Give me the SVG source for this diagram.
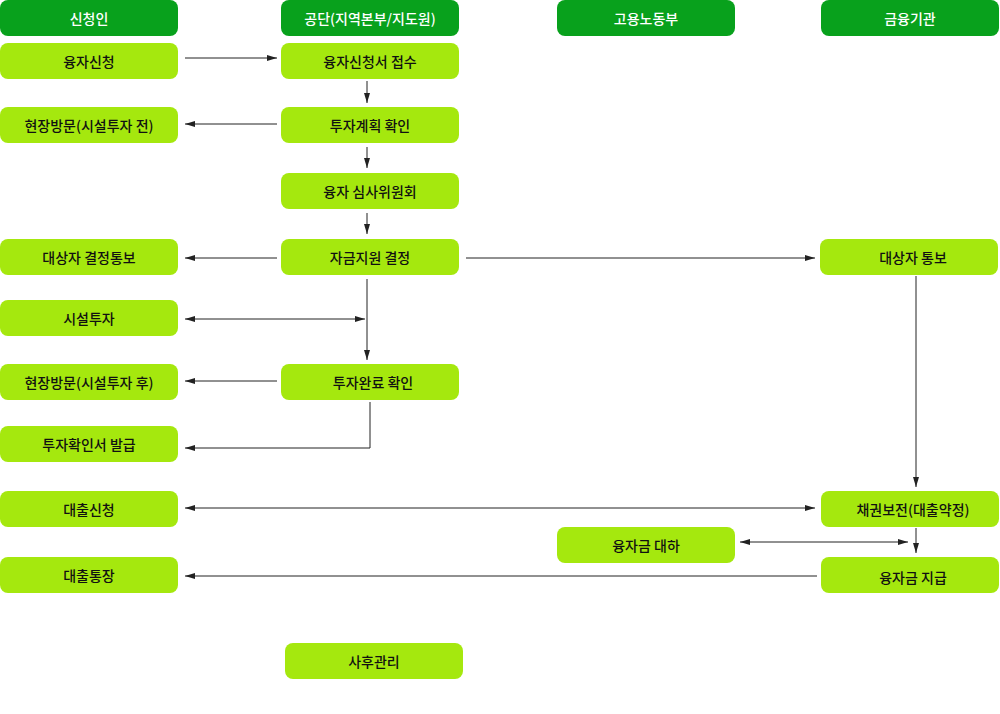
<svg xmlns="http://www.w3.org/2000/svg" width="1000" height="714" viewBox="0 0 1000 714">
<style>
.h{fill:#08a11c}.n{fill:#a5e80e}
text{font-family:"Noto Sans CJK KR","Noto Sans",sans-serif;font-size:14px;font-weight:500;text-anchor:middle;dominant-baseline:central}
.ht{fill:#fff}.nt{fill:#111}
.c line,.c polyline{stroke:#222;stroke-width:1;fill:none}
</style>
<defs>
<marker id="a" viewBox="0 0 10 6" refX="10" refY="3" markerWidth="10" markerHeight="6" orient="auto-start-reverse" markerUnits="userSpaceOnUse"><path d="M0,0L10,3L0,6z" fill="#222"/></marker>
</defs>
<g id="h1"><rect class="h" x="0" y="0" width="178" height="36" rx="8"/><text class="ht" x="89" y="18">신청인</text></g>
<g id="h2"><rect class="h" x="281" y="0" width="178" height="36" rx="8"/><text class="ht" x="370" y="18">공단(지역본부/지도원)</text></g>
<g id="h3"><rect class="h" x="557" y="0" width="178" height="36" rx="8"/><text class="ht" x="646" y="18">고용노동부</text></g>
<g id="h4"><rect class="h" x="821" y="0" width="178" height="36" rx="8"/><text class="ht" x="910" y="18">금융기관</text></g>
<g id="n1"><rect class="n" x="0" y="43" width="178" height="36" rx="8"/><text class="nt" x="89" y="61">융자신청</text></g>
<g id="n2"><rect class="n" x="281" y="43" width="178" height="36" rx="8"/><text class="nt" x="370" y="61">융자신청서 접수</text></g>
<g id="n3"><rect class="n" x="0" y="107" width="178" height="36" rx="8"/><text class="nt" x="89" y="125">현장방문(시설투자 전)</text></g>
<g id="n4"><rect class="n" x="281" y="107" width="178" height="36" rx="8"/><text class="nt" x="370" y="125">투자계획 확인</text></g>
<g id="n5"><rect class="n" x="281" y="173" width="178" height="36" rx="8"/><text class="nt" x="370" y="191">융자 심사위원회</text></g>
<g id="n6"><rect class="n" x="0" y="239" width="178" height="36" rx="8"/><text class="nt" x="89" y="257">대상자 결정통보</text></g>
<g id="n7"><rect class="n" x="281" y="239" width="178" height="36" rx="8"/><text class="nt" x="370" y="257">자금지원 결정</text></g>
<g id="n8"><rect class="n" x="820" y="239" width="178" height="36" rx="8"/><text class="nt" x="913" y="257">대상자 통보</text></g>
<g id="n9"><rect class="n" x="0" y="300" width="178" height="36" rx="8"/><text class="nt" x="89" y="318">시설투자</text></g>
<g id="n10"><rect class="n" x="0" y="364" width="178" height="36" rx="8"/><text class="nt" x="89" y="382">현장방문(시설투자 후)</text></g>
<g id="n11"><rect class="n" x="281" y="364" width="178" height="36" rx="8"/><text class="nt" x="373" y="382">투자완료 확인</text></g>
<g id="n12"><rect class="n" x="0" y="426" width="178" height="36" rx="8"/><text class="nt" x="89" y="444">투자확인서 발급</text></g>
<g id="n13"><rect class="n" x="0" y="491" width="178" height="36" rx="8"/><text class="nt" x="89" y="509">대출신청</text></g>
<g id="n14"><rect class="n" x="821" y="491" width="178" height="36" rx="8"/><text class="nt" x="913" y="509">채권보전(대출약정)</text></g>
<g id="n15"><rect class="n" x="557" y="527" width="178" height="36" rx="8"/><text class="nt" x="646" y="545">융자금 대하</text></g>
<g id="n16"><rect class="n" x="0" y="557" width="178" height="36" rx="8"/><text class="nt" x="89" y="575">대출통장</text></g>
<g id="n17"><rect class="n" x="821" y="557" width="178" height="36" rx="8"/><text class="nt" x="913" y="577">융자금 지급</text></g>
<g id="n18"><rect class="n" x="285" y="643" width="178" height="36" rx="8"/><text class="nt" x="374" y="661">사후관리</text></g>
<g class="c" id="connectors">
<line x1="185" y1="58" x2="277" y2="58" marker-end="url(#a)"/>
<line x1="367" y1="81" x2="367" y2="103" marker-end="url(#a)"/>
<line x1="277" y1="124" x2="185" y2="124" marker-end="url(#a)"/>
<line x1="367" y1="147" x2="367" y2="168" marker-end="url(#a)"/>
<line x1="367" y1="213" x2="367" y2="234" marker-end="url(#a)"/>
<line x1="277" y1="258" x2="185" y2="258" marker-end="url(#a)"/>
<line x1="466" y1="258" x2="815" y2="258" marker-end="url(#a)"/>
<line x1="367" y1="279" x2="367" y2="360" marker-end="url(#a)"/>
<line x1="185" y1="319" x2="365" y2="319" marker-start="url(#a)" marker-end="url(#a)"/>
<line x1="277" y1="381" x2="185" y2="381" marker-end="url(#a)"/>
<polyline points="370,402 370,448 185,448" marker-end="url(#a)"/>
<line x1="916" y1="276" x2="916" y2="487" marker-end="url(#a)"/>
<line x1="185" y1="508" x2="815" y2="508" marker-start="url(#a)" marker-end="url(#a)"/>
<line x1="740" y1="542" x2="908" y2="542" marker-start="url(#a)" marker-end="url(#a)"/>
<line x1="916" y1="528" x2="916" y2="553" marker-end="url(#a)"/>
<line x1="817" y1="576" x2="185" y2="576" marker-end="url(#a)"/>
</g>
</svg>
